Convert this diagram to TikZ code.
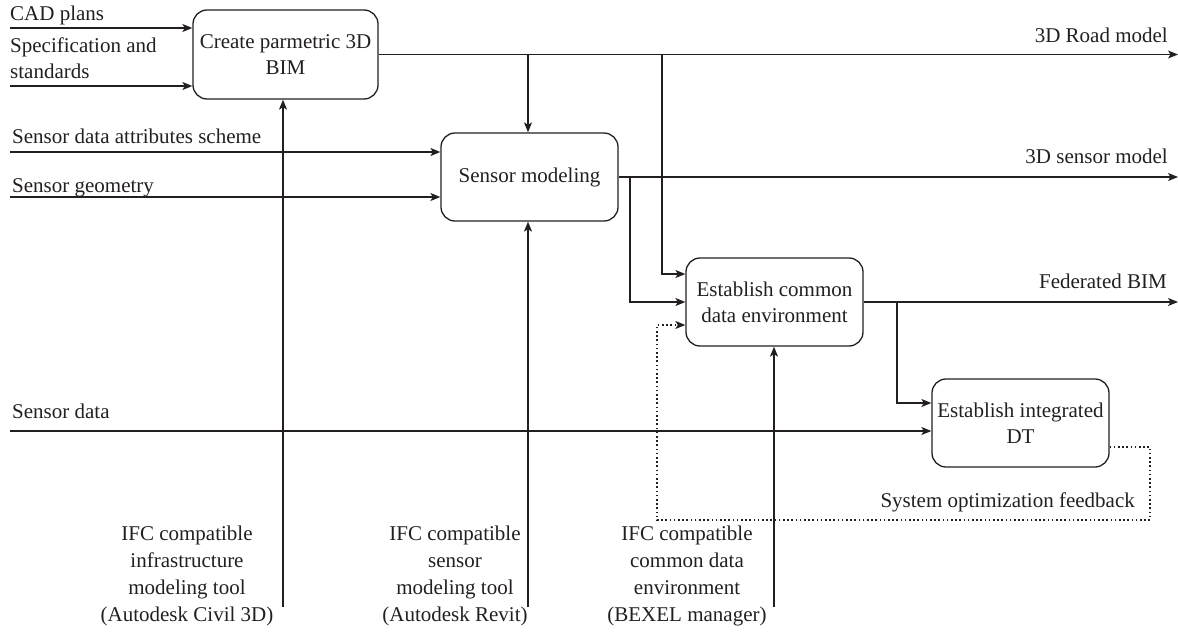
\documentclass[tikz,border=0pt]{standalone}
\usepackage{fontspec}
\setmainfont{Liberation Serif}
\usetikzlibrary{arrows.meta}
\definecolor{ink}{HTML}{231F20}
\begin{document}
\begin{tikzpicture}[x=1pt,y=-1pt,
  every node/.style={font=\fontsize{21}{26}\selectfont, text=ink, inner sep=0pt},
  proc/.style={draw=ink, line width=1.3pt, rounded corners=14pt, align=center, minimum width=177pt, minimum height=88pt},
  arr/.style={draw=ink, line width=1.3pt, -{Stealth[length=10pt,width=8pt,inset=2.5pt]}},
  ln/.style={draw=ink, line width=1.3pt},
  fb/.style={draw=ink, line width=1.2pt, dash pattern=on 1.6pt off 2.6pt, -{Stealth[length=10pt,width=8pt,inset=2.5pt]}},
  lbl/.style={anchor=base west},
  rlbl/.style={anchor=base east},
  ctl/.style={anchor=north, align=center, font=\fontsize{21}{27}\selectfont}
]
\useasboundingbox (0,0) rectangle (1178,635);

% process boxes
\node[proc, minimum width=185pt, minimum height=89pt] (A) at (285.5,54.5) {Create parmetric 3D\\BIM};
\node[proc] (B) at (529.5,177) {Sensor modeling};
\node[proc] (C) at (774.5,302) {Establish common\\data environment};
\node[proc] (D) at (1020.5,423) {Establish integrated\\DT};

% free ends
\coordinate (cadS) at (10,28);
\coordinate (specS) at (10,86);
\coordinate (sdaS) at (10,152);
\coordinate (sgS) at (10,197);
\coordinate (sdS) at (10,431);
\coordinate (roadE) at (1178,54.5);
\coordinate (sensE) at (1178,177);
\coordinate (fedE) at (1178,302);
\coordinate (t1) at (283,607);
\coordinate (t2) at (528,607);
\coordinate (t3) at (774,607);
\coordinate (j1) at (528,54.5);
\coordinate (j2) at (662,54.5);
\coordinate (j3) at (630,177);
\coordinate (j4) at (897,302);
\coordinate (fbR) at (1150,520);
\coordinate (fbL) at (657,520);

% inputs
\draw[arr] (cadS) -- (cadS -| A.west);
\draw[arr] (specS) -- (specS -| A.west);
\draw[arr] (sdaS) -- (sdaS -| B.west);
\draw[arr] (sgS) -- (sgS -| B.west);
\draw[arr] (sdS) -- (sdS -| D.west);

% outputs
\draw[arr] (A.east) -- (roadE);
\draw[arr] (B.east) -- (sensE);
\draw[arr] (C.east) -- (fedE);

% branches
\draw[arr] (j1) -- (j1 |- B.north);
\draw[arr] (j2) |- ([yshift=28pt]C.west);
\draw[arr] (j3) |- (C.west);
\draw[arr] (j4) |- ([yshift=20pt]D.west);

% feedback
\draw[fb] ([yshift=-24pt]D.east) -| (fbR) -- (fbL) |- ([yshift=-23pt]C.west);

% controls
\draw[arr] (t1) -- (t1 |- A.south);
\draw[arr] (t2) -- (t2 |- B.south);
\draw[arr] (t3) -- (t3 |- C.south);

% labels
\node[lbl] (lCAD) at (10,20) {CAD plans};
\node[lbl] (lSpec1) at (10,52) {Specification and};
\node[lbl] (lSpec2) at (10,78) {standards};
\node[lbl] (lSda) at (12,143) {Sensor data attributes scheme};
\node[lbl] (lSg) at (12,192) {Sensor geometry};
\node[lbl] (lSd) at (12,418) {Sensor data};
\node[rlbl] (lRoad) at (1168,42) {3D Road model};
\node[rlbl] (lSens) at (1168,163) {3D sensor model};
\node[rlbl] (lFed) at (1167,288) {Federated BIM};
\node[rlbl] (lSys) at (1135,507) {System optimization feedback};

\node[ctl] (c1) at (187,526) {IFC compatible\\infrastructure\\modeling tool\\(Autodesk Civil 3D)};
\node[ctl] (c2) at (455,526) {IFC compatible\\sensor\\modeling tool\\(Autodesk Revit)};
\node[ctl] (c3) at (687,526) {IFC compatible\\common data\\environment\\(BEXEL manager)};
\end{tikzpicture}
\end{document}
